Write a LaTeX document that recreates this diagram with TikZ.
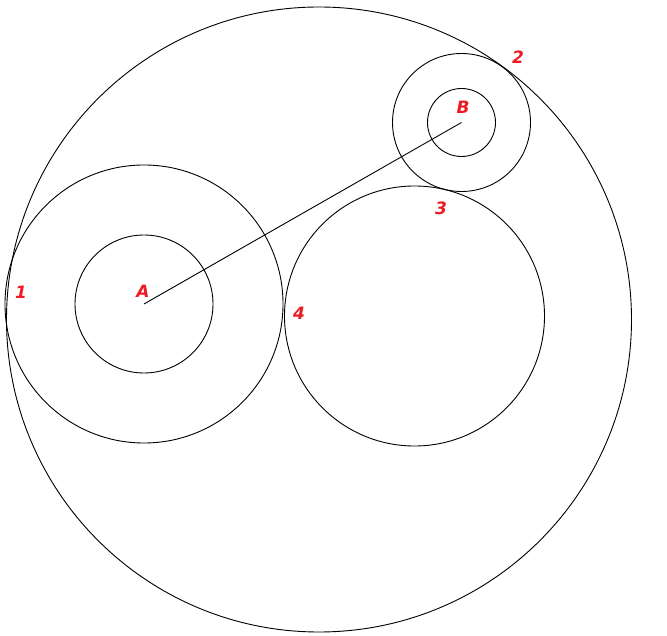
\documentclass[tikz,border=0pt]{standalone}
\usepackage{fontspec}
\setmainfont{DejaVu Sans}
\definecolor{lblred}{RGB}{237,28,36}
\begin{document}
\begin{tikzpicture}[x=1pt,y=-1pt,
  circ/.style={draw=black,line width=0.9pt},
  lbl/.style={text=lblred,font=\fontsize{17}{17}\selectfont\bfseries\itshape,inner sep=0pt}]
\useasboundingbox (0,0) rectangle (667,636);
\coordinate (A) at (144,304);
\coordinate (B) at (461.5,122.5);
\coordinate (C) at (414.5,316);
\coordinate (O) at (319,319.5);
\draw[circ] (O) circle[radius=312.5];
\draw[circ] (A) circle[radius=139];
\draw[circ] (A) circle[radius=69];
\draw[circ] (B) circle[radius=69];
\draw[circ] (B) circle[radius=34];
\draw[circ] (C) circle[radius=130];
\draw[circ] (A) -- (B);
\node[lbl] (lA) at (143,291) {A};
\node[lbl] (lB) at (463,107) {B};
\node[lbl] (l1) at (21,292) {1};
\node[lbl] (l2) at (518,57) {2};
\node[lbl] (l3) at (441,208) {3};
\node[lbl] (l4) at (299,313) {4};
\end{tikzpicture}
\end{document}
